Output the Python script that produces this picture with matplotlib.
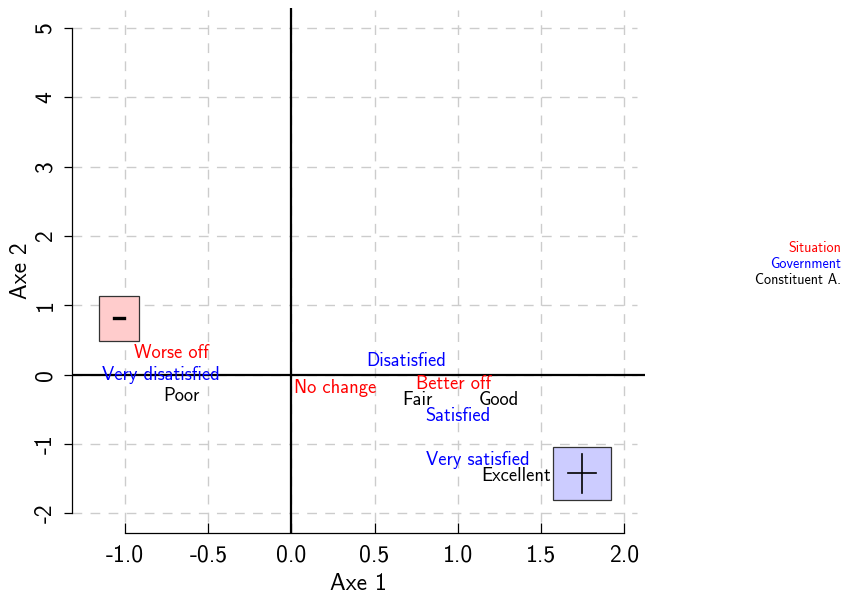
import matplotlib
matplotlib.use('Agg')
import matplotlib.pyplot as plt
from matplotlib.patches import Rectangle

# Category labels (coordinates on the two axes)
situation_labels = ['Worse off', 'No change', 'Better off']
situation_x = [-0.72, 0.265, 0.977]
situation_y = [0.31, -0.19, -0.14]

government_labels = ['Very disatisfied', 'Disatisfied', 'Satisfied', 'Very satisfied']
government_x = [-0.788, 0.69, 0.998, 1.118]
government_y = [0.0, 0.196, -0.597, -1.235]

constituent_labels = ['Poor', 'Fair', 'Good', 'Excellent']
constituent_x = [-0.664, 0.758, 1.248, 1.35]
constituent_y = [-0.31, -0.365, -0.365, -1.465]

# Supplementary "-" / "+" boxes
box_symbols = ['-', '+']
box_x = [-1.037, 1.747]
box_y = [0.81, -1.427]
box_w = [0.24, 0.35]
box_h = [0.65, 0.765]
box_colors = ['#FFCCCC', '#CCCCFF']

xticks = [-1.0, -0.5, 0.0, 0.5, 1.0, 1.5, 2.0]
yticks = [-2, -1, 0, 1, 2, 3, 4, 5]

legend_labels = ['Situation', 'Government', 'Constituent A.']
legend_colors = ['red', 'blue', 'black']

plt.rcParams['font.family'] = ['cmss10', 'DejaVu Sans']
plt.rcParams['axes.unicode_minus'] = False

fig = plt.figure(figsize=(8.44, 5.97), dpi=100)
ax = fig.add_axes([0.0853, 0.1072, 0.6789, 0.8794])
ax.set_xlim(-1.320, 2.126)
ax.set_ylim(-2.286, 5.29)

# dashed grid
ax.hlines(yticks, -1.32, 2.078, colors='#cccccc', linestyles=(0, (7, 6)), linewidth=1, zorder=0)
ax.vlines(xticks, -2.127, 5.26, colors='#cccccc', linestyles=(0, (7, 6)), linewidth=1, zorder=0)

ax.axhline(0, color='black', linewidth=1.6, zorder=1)
ax.axvline(0, color='black', linewidth=1.6, zorder=1)

for s, x, y, w, h, c in zip(box_symbols, box_x, box_y, box_w, box_h, box_colors):
    ax.add_patch(Rectangle((x - w / 2, y - h / 2), w, h, facecolor=c,
                           edgecolor='#333333', linewidth=0.9, zorder=2))
    if s == '-':
        ax.plot([x - 0.03, x + 0.03], [y, y], color='black', linewidth=2.4, zorder=3)
    else:
        ax.plot([x - 0.085, x + 0.085], [y, y], color='black', linewidth=1.2, zorder=3)
        ax.plot([x, x], [y - 0.28, y + 0.28], color='black', linewidth=1.2, zorder=3)

for labels, xs, ys, col in [(situation_labels, situation_x, situation_y, 'red'),
                            (government_labels, government_x, government_y, 'blue'),
                            (constituent_labels, constituent_x, constituent_y, 'black')]:
    for t, x, y in zip(labels, xs, ys):
        ax.text(x, y, t, color=col, fontsize=13.3, ha='center', va='center', zorder=4)

for sp in ['top', 'right']:
    ax.spines[sp].set_visible(False)
ax.spines['left'].set_bounds(-2, 5)
ax.spines['bottom'].set_bounds(-1, 2)
ax.spines['left'].set_linewidth(0.9)
ax.spines['bottom'].set_linewidth(0.9)

ax.set_xticks(xticks)
ax.set_xticklabels([f'{v:.1f}' for v in xticks])
ax.set_yticks(yticks)
ax.set_yticklabels([str(v) for v in yticks], rotation=90, va='center')
ax.tick_params(axis='x', direction='in', length=7, width=0.9, pad=8, labelsize=17)
ax.tick_params(axis='y', direction='out', length=6, width=0.9, pad=5, labelsize=17)

ax.set_xlabel('Axe 1', fontsize=17, labelpad=5)
ax.set_ylabel('Axe 2', fontsize=17, labelpad=2)

for i, (t, c) in enumerate(zip(legend_labels, legend_colors)):
    fig.text(0.9964, 0.5846 - i * 0.0268, t, color=c, fontsize=10.2, ha='right', va='center')

fig.savefig('out.png', dpi=100)
